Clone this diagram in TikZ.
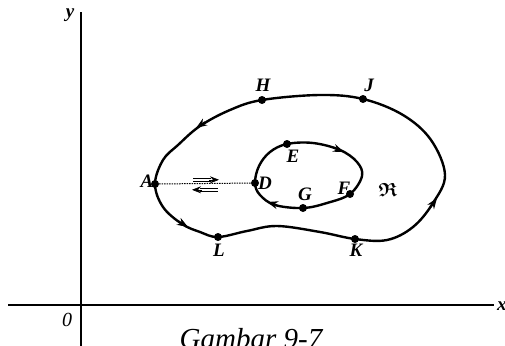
\documentclass[tikz,border=0pt]{standalone}
\usepackage{amsmath,amssymb}
\usepackage{fontspec}
\setmainfont{Liberation Serif}
\usetikzlibrary{arrows.meta}
\begin{document}
\begin{tikzpicture}[x=1pt,y=-1pt,
 curve/.style={line width=2.4pt},
 axis/.style={line width=1.9pt},
 dot/.style={circle,fill,inner sep=0pt,minimum size=8pt},
 lbl/.style={font=\fontsize{19}{22}\selectfont\bfseries\itshape, inner sep=0pt},
 tip/.style={-{Stealth[length=11pt,width=8pt]}, line width=1.6pt},
 dtip/.style={-{Stealth[length=9pt,width=7pt]}, line width=0.6pt},
 thinline/.style={line width=0.9pt},
]
\useasboundingbox (0,0) rectangle (505,345);
\fill[white] (0,0) rectangle (505,345);
% axes
\coordinate (ytop) at (81,12);
\coordinate (ybot) at (81,350);
\coordinate (xl) at (8,305);
\coordinate (xr) at (494,305);
\draw[axis] (ybot) -- (ytop);
\draw[axis] (xl) -- (xr);
\node[lbl] (ly) at (70,15) {y};
\node[font=\fontsize{20}{22}\selectfont\itshape, inner sep=0pt] (l0) at (67,320) {0};
\node[lbl, anchor=west] (lx) at (497,306) {x};
% outer curve
\draw[curve] plot[smooth cycle, tension=0.6] coordinates {(155,184) (163,207) (182,224) (200,232) (218,237) (247,231) (277,226) (320,232) (355,239) (387,240) (413,227) (433,203) (445,175) (431,140) (403,115) (363,99) (320,95) (262,100) (230,110) (200,126) (178,145) (163,160)};
% inner curve
\draw[curve] plot[smooth cycle, tension=0.6] coordinates {(255,183) (259,166) (270,152) (287,144) (313,143) (340,150) (357,162) (362,176) (350,194) (327,203) (303,208) (275,205) (260,195)};
% arrow heads on curves
\draw[tip] (205,122) -- (196,128);
\draw[tip] (178,221) -- (188,227);
\draw[tip] (430,208) -- (437,198);
\draw[tip] (334,148) -- (344,152);
\draw[tip] (277,205) -- (267,202);
% points
\node[dot] (A) at (155,184) {};
\node[dot] (D) at (255,183) {};
\node[dot] (H) at (262,100) {};
\node[dot] (J) at (363,99) {};
\node[dot] (L) at (218,237) {};
\node[dot] (K) at (355,239) {};
\node[dot] (E) at (287,144) {};
\node[dot] (F) at (350,194) {};
\node[dot] (G) at (303,208) {};
% dashed cut
\draw[line width=1pt, dash pattern=on 1.5pt off 1pt] (A) -- (D);
% double arrows
\draw[thinline] (193,178.2) -- (211,178.2) (193,181.4) -- (211,181.4);
\draw[dtip] (209,179.8) -- (219,179.8);
\draw[thinline] (200,188.2) -- (218,188.2) (200,191.4) -- (218,191.4);
\draw[dtip] (202,189.8) -- (192,189.8);
% labels
\node[lbl] (lA) at (147,181) {A};
\node[lbl] (lD) at (265,183) {D};
\node[lbl] (lH) at (263,85) {H};
\node[lbl] (lJ) at (369,85) {J};
\node[lbl] (lL) at (219,250) {L};
\node[lbl] (lK) at (356,250) {K};
\node[lbl] (lE) at (293,156) {E};
\node[lbl] (lG) at (305,194) {G};
\node[lbl] (lF) at (344,188) {F};
\node[lbl] (lR) at (388,190) {$\boldsymbol{\mathfrak{R}}$};
% caption
\node[font=\fontsize{29}{32}\selectfont\itshape, anchor=base, inner sep=0pt] (cap) at (251,348) {Gambar 9-7};
\end{tikzpicture}
\end{document}
